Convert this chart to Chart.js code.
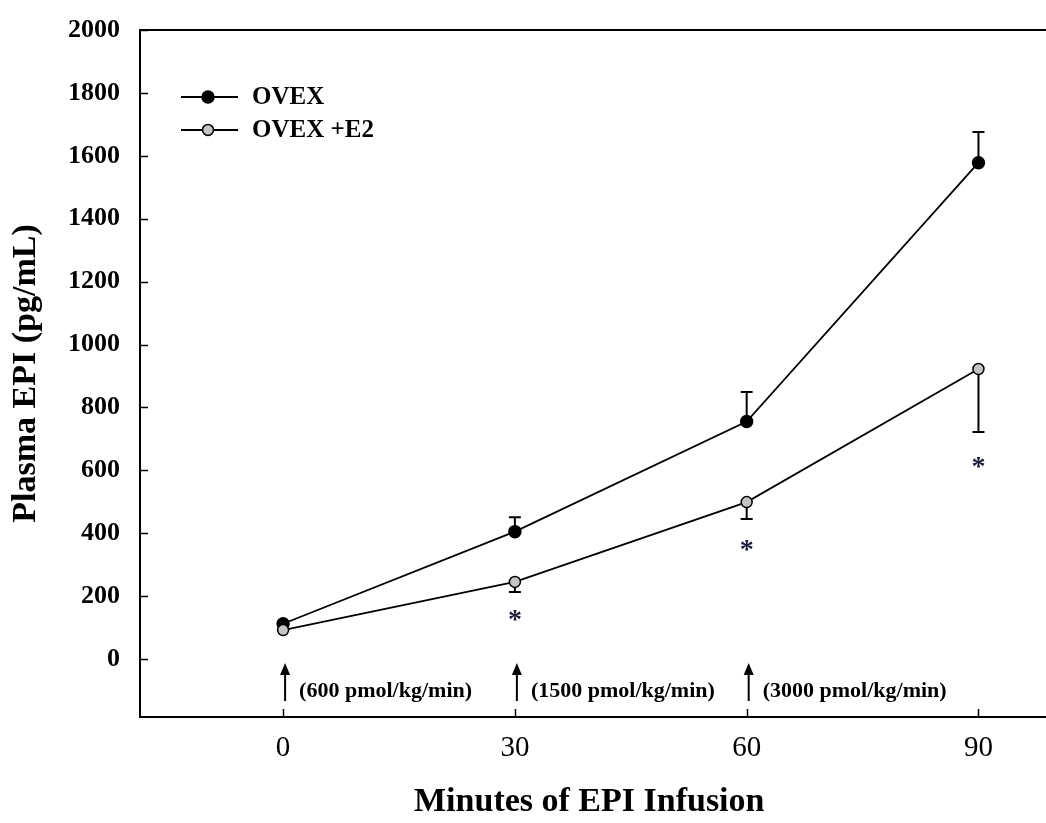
<!DOCTYPE html>
<html>
<head>
<meta charset="utf-8">
<script src="https://cdn.jsdelivr.net/npm/chart.js@4/dist/chart.umd.min.js"></script>
<style>
  html, body { margin: 0; padding: 0; background: #fff; }
  canvas { display: block; }
</style>
</head>
<body>
<canvas id="c" width="1046" height="823"></canvas>
<script>
// ---- data ----
const minutes = [0, 30, 60, 90];
const ovex = [112, 405, 755, 1578];
const ovexErrUp = [0, 46, 94, 98];
const ovexE2 = [92, 245, 499, 922];
const ovexE2ErrDown = [0, 32, 54, 200];
const seriesNames = ['OVEX', 'OVEX +E2'];
const starMinutes = [30, 60, 90];
const starValues = [140, 362, 626];
const doseMinutes = [0, 30, 60];
const doseLabels = ['(600 pmol/kg/min)', '(1500 pmol/kg/min)', '(3000 pmol/kg/min)'];
const xTickValues = [0, 30, 60, 90];
const yTickValues = [0, 200, 400, 600, 800, 1000, 1200, 1400, 1600, 1800, 2000];
const xTitle = 'Minutes of EPI Infusion';
const yTitle = 'Plasma EPI (pg/mL)';

const SERIF = "'Liberation Serif', 'Times New Roman', serif";
const markerStyles = [
  { fill: '#000000', stroke: '#000000', r: 6 },
  { fill: '#c4c4c4', stroke: '#000000', r: 5.5 }
];

const zeroPad = (s) => { s.paddingTop = 0; s.paddingBottom = 0; s.paddingLeft = 0; s.paddingRight = 0; };

const extras = {
  id: 'extras',
  beforeDatasetsDraw(chart) {
    const { ctx, scales: { x, y } } = chart;
    ctx.save();
    ctx.strokeStyle = '#000';
    ctx.lineWidth = 2;
    const cap = 6;
    const bar = (xv, y0, y1) => {
      const px = x.getPixelForValue(xv);
      const p0 = y.getPixelForValue(y0), p1 = y.getPixelForValue(y1);
      ctx.beginPath();
      ctx.moveTo(px, p0); ctx.lineTo(px, p1);
      ctx.moveTo(px - cap, p1); ctx.lineTo(px + cap, p1);
      ctx.stroke();
    };
    minutes.forEach((m, i) => {
      if (ovexErrUp[i] > 0) bar(m, ovex[i], ovex[i] + ovexErrUp[i]);
      if (ovexE2ErrDown[i] > 0) bar(m, ovexE2[i], ovexE2[i] - ovexE2ErrDown[i]);
    });
    ctx.restore();
  },
  afterDraw(chart) {
    const { ctx, chartArea: a, scales: { x, y } } = chart;
    ctx.save();
    ctx.strokeStyle = '#000';
    ctx.lineWidth = 2;
    // top frame line and bottom axis continued to the canvas edge
    ctx.beginPath();
    ctx.moveTo(a.left - 1, a.top); ctx.lineTo(chart.width, a.top);
    ctx.moveTo(a.right - 2, a.bottom); ctx.lineTo(chart.width, a.bottom);
    ctx.stroke();
    // inward ticks
    ctx.lineWidth = 1.5;
    yTickValues.forEach(v => {
      const py = Math.round(y.getPixelForValue(v)) + 0.5;
      ctx.beginPath(); ctx.moveTo(a.left, py); ctx.lineTo(a.left + 8, py); ctx.stroke();
    });
    xTickValues.forEach(v => {
      const px = Math.round(x.getPixelForValue(v)) + 0.5;
      ctx.beginPath(); ctx.moveTo(px, a.bottom); ctx.lineTo(px, a.bottom - 8); ctx.stroke();
    });

    // significance stars
    ctx.fillStyle = '#1c1c3a';
    ctx.font = 'bold 28px ' + SERIF;
    ctx.textAlign = 'center';
    ctx.textBaseline = 'alphabetic';
    starMinutes.forEach((m, i) => {
      const px = x.getPixelForValue(m), py = y.getPixelForValue(starValues[i]);
      ctx.fillText('*', px, py + 13);
    });

    // dose arrows and labels
    ctx.fillStyle = '#000';
    ctx.strokeStyle = '#000';
    ctx.font = 'bold 22px ' + SERIF;
    ctx.textAlign = 'left';
    ctx.textBaseline = 'middle';
    doseMinutes.forEach((m, i) => {
      const px = x.getPixelForValue(m) + 2;
      const tip = a.bottom - 54, tail = a.bottom - 16;
      ctx.lineWidth = 2;
      ctx.beginPath(); ctx.moveTo(px, tail); ctx.lineTo(px, tip + 8); ctx.stroke();
      ctx.beginPath();
      ctx.moveTo(px, tip); ctx.lineTo(px - 5, tip + 12); ctx.lineTo(px + 5, tip + 12);
      ctx.closePath(); ctx.fill();
      ctx.fillText(doseLabels[i], px + 14, a.bottom - 26);
    });

    // legend
    ctx.font = 'bold 25px ' + SERIF;
    ctx.textBaseline = 'middle';
    seriesNames.forEach((name, i) => {
      const ly = 97 + i * 33;
      ctx.lineWidth = 2;
      ctx.strokeStyle = '#000';
      ctx.beginPath(); ctx.moveTo(181, ly); ctx.lineTo(238, ly); ctx.stroke();
      const st = markerStyles[i];
      ctx.beginPath(); ctx.arc(208, ly, st.r, 0, Math.PI * 2);
      ctx.fillStyle = st.fill; ctx.fill();
      ctx.lineWidth = 1.5; ctx.strokeStyle = st.stroke; ctx.stroke();
      ctx.fillStyle = '#000';
      ctx.fillText(name, 252, ly + 1);
    });
    ctx.restore();
  }
};

const mkData = (vals) => minutes.map((m, i) => ({ x: m, y: vals[i] }));

new Chart(document.getElementById('c'), {
  type: 'line',
  data: {
    datasets: [
      {
        label: seriesNames[0],
        data: mkData(ovex),
        order: 2,
        borderColor: '#000', borderWidth: 1.8,
        pointRadius: markerStyles[0].r, pointBackgroundColor: markerStyles[0].fill,
        pointBorderColor: markerStyles[0].stroke, pointBorderWidth: 1.5,
        tension: 0, clip: false
      },
      {
        label: seriesNames[1],
        data: mkData(ovexE2),
        order: 1,
        borderColor: '#000', borderWidth: 1.8,
        pointRadius: markerStyles[1].r, pointBackgroundColor: markerStyles[1].fill,
        pointBorderColor: markerStyles[1].stroke, pointBorderWidth: 1.5,
        tension: 0, clip: false
      }
    ]
  },
  options: {
    responsive: false,
    animation: false,
    events: [],
    layout: { padding: { top: 30, right: 0, left: 0, bottom: 0 } },
    plugins: { legend: { display: false }, tooltip: { enabled: false } },
    scales: {
      x: {
        type: 'linear',
        min: -18.52, max: 97.77,
        afterFit(s) { s.height = 106; zeroPad(s); },
        afterBuildTicks(s) { s.ticks = xTickValues.map(v => ({ value: v })); },
        grid: { display: false, drawTicks: false },
        border: { display: true, color: '#000', width: 2 },
        ticks: {
          callback: v => String(v),
          color: '#000', padding: 14, maxRotation: 0, autoSkip: false,
          font: { family: SERIF, size: 29, weight: 'normal' }
        },
        title: {
          display: true, text: xTitle, color: '#000',
          font: { family: SERIF, size: 34, weight: 'bold' },
          padding: { top: 0, bottom: 0 }
        }
      },
      y: {
        type: 'linear',
        min: -184.4, max: 2000,
        afterFit(s) { s.width = 140; zeroPad(s); },
        afterBuildTicks(s) { s.ticks = yTickValues.map(v => ({ value: v })); },
        grid: { display: false, drawTicks: false },
        border: { display: true, color: '#000', width: 2 },
        ticks: {
          callback: v => String(v),
          color: '#000', padding: 20, autoSkip: false,
          font: { family: SERIF, size: 26, weight: 'bold' }
        },
        title: {
          display: true, text: yTitle, color: '#000',
          font: { family: SERIF, size: 34, weight: 'bold' },
          padding: { top: 6, bottom: 0 }
        }
      }
    }
  },
  plugins: [extras]
});
</script>
</body>
</html>
